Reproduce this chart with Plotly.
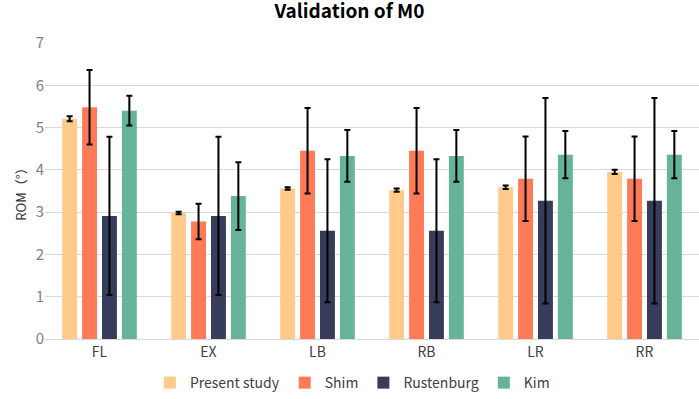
import plotly.graph_objects as go

categories = ["FL", "EX", "LB", "RB", "LR", "RR"]
series_names = ["Present study", "Shim", "Rustenburg", "Kim"]
present = [5.21, 2.98, 3.56, 3.52, 3.59, 3.95]
present_err = [0.06, 0.03, 0.03, 0.04, 0.04, 0.05]
shim = [5.48, 2.78, 4.45, 4.45, 3.79, 3.79]
shim_err = [0.88, 0.42, 1.01, 1.01, 1.0, 1.0]
rust = [2.91, 2.91, 2.56, 2.56, 3.27, 3.27]
rust_err = [1.87, 1.87, 1.69, 1.69, 2.43, 2.43]
kim = [5.40, 3.38, 4.33, 4.33, 4.36, 4.36]
kim_err = [0.35, 0.80, 0.61, 0.61, 0.56, 0.56]
colors = ["#FFCA8A", "#FF7A57", "#363C5A", "#66B399"]

values = [present, shim, rust, kim]
errors = [present_err, shim_err, rust_err, kim_err]

font_family = "Noto Sans CJK SC, Noto Sans, sans-serif"

fig = go.Figure()
for name, v, e, c in zip(series_names, values, errors, colors):
    fig.add_trace(go.Bar(
        x=categories, y=v, name=name, marker_color=c, marker_line_width=0,
        error_y=dict(type="data", array=e, visible=True, color="black",
                     thickness=2, width=3),
    ))

fig.update_layout(
    width=699, height=399,
    margin=dict(l=45, r=0, t=43, b=60, autoexpand=False),
    paper_bgcolor="white", plot_bgcolor="white",
    barmode="group", bargap=0.27, bargroupgap=0.25,
    title=dict(text="<b>Validation of M0</b>", x=0.5, xanchor="center",
               y=0.988, yanchor="top", pad=dict(t=0),
               font=dict(family=font_family, size=19, color="black")),
    font=dict(family=font_family, color="#7F7F7F", size=14),
    yaxis=dict(range=[0, 7], dtick=1, showgrid=True, gridcolor="#D9D9D9",
               gridwidth=1, zeroline=False, showline=False, automargin=False,
               tickfont=dict(size=15, color="#808080"),
               title=dict(text="ROM（°）", font=dict(size=13, color="#333333"),
                          standoff=6)),
    xaxis=dict(showline=True, linecolor="#D9D9D9", linewidth=1, automargin=False,
               tickfont=dict(size=14, color="#404040"), ticks=""),
    legend=dict(orientation="h", x=0.47, xanchor="center",
                yref="container", y=0.04, yanchor="middle",
                font=dict(size=14, color="#404040"),
                itemwidth=30, tracegroupgap=0),
)

fig.write_html("out.html", config={"displayModeBar": False},
               post_script="document.body.style.margin='0';document.body.style.padding='0';")
